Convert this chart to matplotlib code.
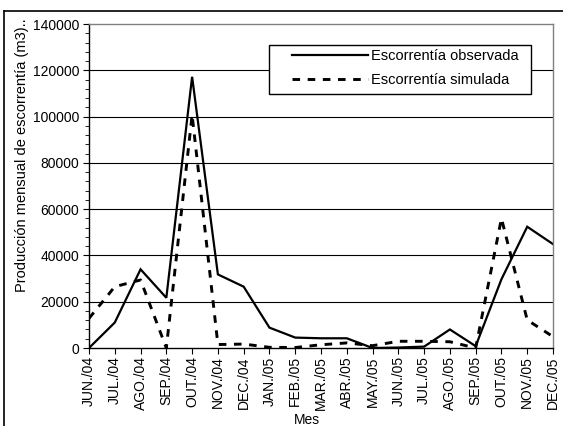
import matplotlib
matplotlib.use("Agg")
import matplotlib.pyplot as plt
from matplotlib.ticker import MultipleLocator
from matplotlib.lines import Line2D
from matplotlib.patches import Rectangle

plt.rcParams['font.family'] = ['Liberation Sans', 'DejaVu Sans']

meses = ["JUN./04", "JUL./04", "AGO./04", "SEP./04", "OUT./04", "NOV./04",
         "DEC./04", "JAN./05", "FEB./05", "MAR./05", "ABR./05", "MAY./05",
         "JUN./05", "JUL./05", "AGO./05", "SEP./05", "OUT./05", "NOV./05",
         "DEC./05"]

observada = [0, 11000, 34000, 21700, 117200, 31800, 26500, 8800, 4500, 4200,
             4200, 0, 200, 600, 8000, 800, 29700, 52400, 44900]

simulada = [12800, 26500, 29400, 0, 100700, 1500, 1700, 300, 200, 1400,
            2200, 1000, 2900, 2900, 2700, 0, 56000, 12100, 4900]

W, H = 563, 426
fig = plt.figure(figsize=(W / 100, H / 100), dpi=100)

# marco exterior
fig.add_artist(Line2D([4 / W, 4 / W], [0, 1 - 11 / H], color='black', lw=1.2))
fig.add_artist(Line2D([4 / W, 1], [1 - 11 / H, 1 - 11 / H], color='black', lw=1.2))

ax = fig.add_axes([89 / W, 1 - 348 / H, (553 - 89) / W, (348 - 24) / H])

x = list(range(len(meses)))
ax.plot(x, observada, color='black', lw=1.6, label="Escorrentía observada",
        solid_joinstyle='miter')
ax.plot(x, simulada, color='black', lw=2.1, linestyle=(0, (2.6, 2.6)),
        label="Escorrentía simulada")

ax.set_xlim(0, len(meses) - 1)
ax.set_ylim(0, 140000)
ax.yaxis.set_major_locator(MultipleLocator(20000))
ax.yaxis.set_minor_locator(MultipleLocator(4000))
ax.set_xticks(x)
ax.set_xticklabels(meses, rotation=90, fontsize=10)
ax.tick_params(axis='y', labelsize=10, length=4, pad=3, direction='out')
ax.tick_params(axis='y', which='minor', length=3, direction='out')
ax.tick_params(axis='x', length=4, pad=2, direction='out')

for v in range(20000, 140000, 20000):
    ax.axhline(v, color='black', lw=0.8, zorder=0)

for s in ['top', 'right']:
    ax.spines[s].set_color('#808080')
    ax.spines[s].set_linewidth(1.0)
for s in ['left', 'bottom']:
    ax.spines[s].set_color('black')
    ax.spines[s].set_linewidth(1.0)

# caja de la leyenda
ax.add_patch(Rectangle((269 / W, 1 - 94 / H), (531 - 269) / W, 49 / H,
                       transform=fig.transFigure, facecolor='white',
                       edgecolor='black', lw=1.0, zorder=4, clip_on=False))
leg = ax.legend(loc='upper left', bbox_to_anchor=(292 / W, 1 - 49 / H),
                bbox_transform=fig.transFigure, fontsize=10.5, frameon=False,
                handlelength=5.2, handletextpad=0.2, borderpad=0,
                labelspacing=0.72, borderaxespad=0)
leg.set_zorder(5)

fig.text(22 / W, 1 - 155 / H, "Producción mensual de escorrentía (m3)..",
         rotation=90, ha='center', va='center', fontsize=10.5)
fig.text(307 / W, 1 - 420 / H, "Mes", ha='center', va='center', fontsize=10)

fig.savefig("out.png", dpi=100)
